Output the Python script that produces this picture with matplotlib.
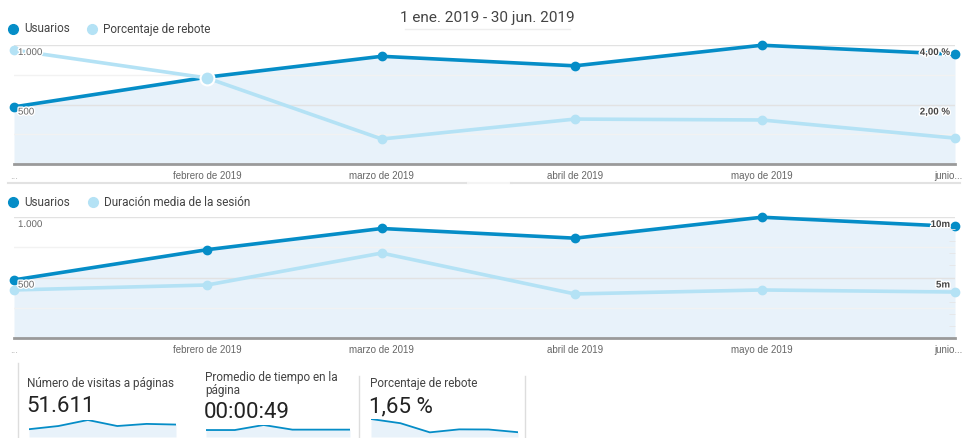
# Informe de Analytics: usuarios frente a rebote y duración, enero-junio 2019
import datetime
import matplotlib
matplotlib.use("Agg")
import matplotlib.pyplot as plt
import matplotlib.transforms as mtransforms
import matplotlib.patheffects as pe
from matplotlib.ticker import FixedLocator

# Datos mensuales
meses = [datetime.date(2019, m, 1) for m in range(1, 7)]
etiquetas_mes = ["...", "febrero de 2019", "marzo de 2019", "abril de 2019", "mayo de 2019", "junio..."]
usuarios = [480, 730, 905, 825, 998, 922]
rebote = [3.83, 2.89, 0.84, 1.51, 1.48, 0.87]          # %
duracion = [3.97, 4.38, 7.02, 3.64, 3.97, 3.80]        # minutos
visitas_paginas = [7400, 8300, 10000, 8300, 8900, 8711]
tiempo_pagina = [45, 45, 58, 46, 46, 46]               # segundos

# Colores
AZUL = "#058dc7"
CLARO = "#b4e2f5"
RELLENO = "#e8f2fa"
GRIS_TXT = "#666666"

W, H = 964, 438
fig = plt.figure(figsize=(W / 100, H / 100), dpi=100)
fig.patch.set_facecolor("white")
plt.rcParams["font.family"] = ["Roboto", "DejaVu Sans"]


def caja(x0, y0, x1, y1):
    return [x0 / W, 1 - y1 / H, (x1 - x0) / W, (y1 - y0) / H]


# capa de adornos en píxeles
ov = fig.add_axes([0, 0, 1, 1], zorder=-1)
ov.set_xlim(0, W)
ov.set_ylim(H, 0)
ov.axis("off")

ov.text(487, 18, "1 ene. 2019 - 30 jun. 2019", ha="center", va="center", fontsize=11, color="#444444")
ov.plot([405, 570], [29, 29], color="#eeeeee", lw=1)
ov.plot([8, 468], [183, 183], color="#e2e2e2", lw=1.5)
ov.plot([468, 511], [183, 183], color="#f4f4f4", lw=1.5)
ov.plot([511, 960], [183, 183], color="#e2e2e2", lw=1.5)


def leyenda(y, x1, texto2):
    ov.plot([13], [y], "o", color=AZUL, ms=7)
    ov.text(24, y, "Usuarios", va="center", fontsize=8.5, color="#444444")
    ov.plot([x1], [y], "o", color=CLARO, ms=7)
    ov.text(x1 + 11, y, texto2, va="center", fontsize=8.5, color="#444444")


leyenda(29, 92, "Porcentaje de rebote")
leyenda(202, 93, "Duración media de la sesión")


def grafico(top, bottom, serie2, ymax2, der_vals, der_txt, menores2=None, resaltar=None):
    ax = fig.add_axes(caja(14, top, 955, bottom))
    ax.set_xlim(meses[0], meses[-1])
    ax.set_ylim(0, 1000)
    ax.fill_between(meses, usuarios, color=RELLENO, lw=0, zorder=1)
    ax.plot(meses, usuarios, color=AZUL, lw=2.6, marker="o", ms=6, clip_on=False, zorder=3)
    ax.yaxis.set_major_locator(FixedLocator([500, 1000]))
    ax.yaxis.set_minor_locator(FixedLocator([250, 750]))
    ax.grid(axis="y", which="major", color="#e2e2e2", lw=1)
    ax.grid(axis="y", which="minor", color="#f2f2f2", lw=1)
    ax.tick_params(axis="y", which="both", length=0, labelleft=False)
    for s in ["top", "left", "right"]:
        ax.spines[s].set_visible(False)
    ax.spines["bottom"].set_color("#9a9a9a")
    ax.spines["bottom"].set_linewidth(2)
    ax.set_xticks(meses)
    ax.set_xticklabels(etiquetas_mes, fontsize=7, color=GRIS_TXT, family=["Liberation Sans", "DejaVu Sans"])
    ax.tick_params(axis="x", length=0, pad=5)
    labs = ax.get_xticklabels()
    labs[0].set_color("#aaaaaa")
    labs[-1].set_ha("right")
    labs[-1].set_transform(labs[-1].get_transform()
                           + mtransforms.ScaledTranslation(8 / 100, 0, fig.dpi_scale_trans))
    ax.patch.set_alpha(0)

    ax2 = ax.twinx()
    ax2.set_ylim(0, ymax2)
    ax2.plot(meses, serie2, color=CLARO, lw=2.6, marker="o", ms=6, clip_on=False, zorder=4)
    if resaltar is not None:
        ax2.plot([meses[resaltar]], [serie2[resaltar]], "o", color=CLARO, ms=10,
                 mec="white", mew=1.5, clip_on=False, zorder=5)
    for s in ax2.spines.values():
        s.set_visible(False)
    ax2.set_yticks([])
    if menores2 is not None:
        ax2.yaxis.set_minor_locator(FixedLocator(menores2))
        ax2.tick_params(axis="y", which="minor", direction="in", length=4, color="#e6e6e6",
                        labelright=False)

    # etiquetas de eje encima de las dos series
    halo = [pe.withStroke(linewidth=2, foreground="white")]
    izq = mtransforms.blended_transform_factory(ax2.transAxes, ax.transData)
    for v in [1000, 500]:
        ax2.annotate(f"{v:,}".replace(",", "."), (0, v), xycoords=izq,
                     xytext=(4, -2), textcoords="offset pixels", va="top", ha="left",
                     fontsize=7, color=GRIS_TXT, family=["Liberation Sans", "DejaVu Sans"],
                     path_effects=halo, zorder=6)
    for v, t in zip(der_vals, der_txt):
        ax2.annotate(t, (1, v), xycoords=("axes fraction", "data"),
                     xytext=(-5, -2), textcoords="offset pixels", va="top", ha="right",
                     fontsize=7, color="#444444", fontweight="bold",
                     family=["Liberation Sans", "DejaVu Sans"], path_effects=halo, zorder=6)
    return ax


grafico(45, 164, rebote, 4, [4, 2], ["4,00 %", "2,00 %"], resaltar=1)
grafico(217, 338, duracion, 10, [10, 5], ["10m", "5m"], menores2=[1, 2, 3, 4, 6, 7, 8, 9])

# Tarjetas de resumen
ov.plot([18, 18], [363, 438], color="#dddddd", lw=1)
for x in [359, 525]:
    ov.plot([x, x], [376, 438], color="#dddddd", lw=1)

ov.text(27, 384, "Número de visitas a páginas", va="center", fontsize=8.5, color="#444444")
ov.text(26, 407, "51.611", va="center", fontsize=16, color="#222222")
ov.text(205, 384, "Promedio de tiempo en la\npágina", va="center", fontsize=8.5, color="#444444",
        linespacing=1.05)
ov.text(204, 412, "00:00:49", va="center", fontsize=16, color="#222222")
ov.text(370, 384, "Porcentaje de rebote", va="center", fontsize=8.5, color="#444444")
ov.text(369, 407, "1,65 %", va="center", fontsize=16, color="#222222")


def mini(x0, x1, top, serie, bajo):
    a = fig.add_axes(caja(x0, top, x1, 437))
    a.fill_between(range(len(serie)), serie, bajo, color=RELLENO, lw=0)
    a.plot(range(len(serie)), serie, color=AZUL, lw=1.3)
    a.set_xlim(0, len(serie) - 1)
    a.set_ylim(bajo, max(serie))
    a.axis("off")


mini(29, 176, 420, visitas_paginas, 5200)
mini(206, 350, 425, tiempo_pagina, 27)
mini(371, 518, 419, rebote, -0.2)

fig.savefig("out.png", dpi=100)
